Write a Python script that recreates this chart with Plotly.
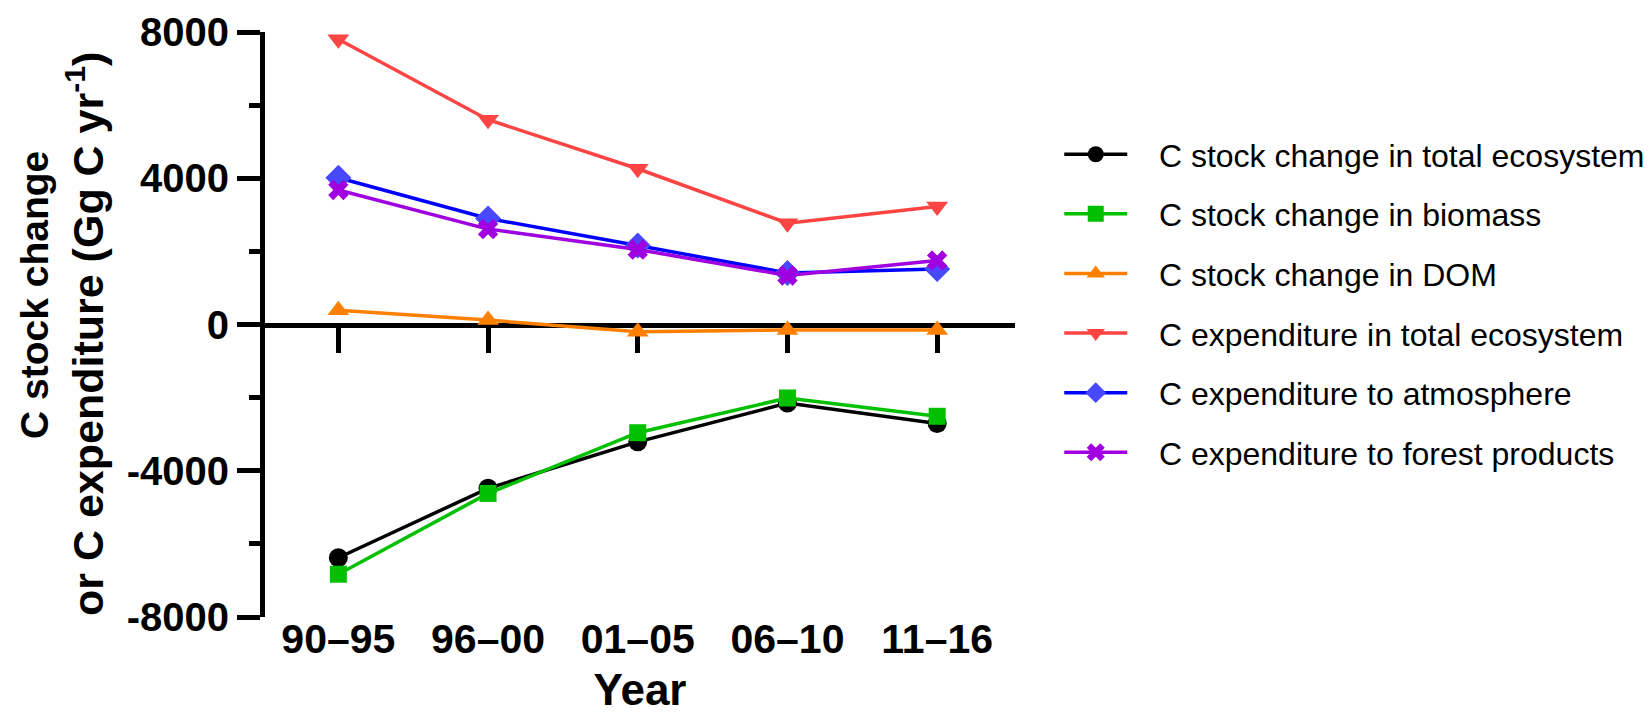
import plotly.graph_objects as go

categories = ["90–95", "96–00", "01–05", "06–10", "11–16"]

total_stock = [-6380, -4480, -3210, -2150, -2710]
biomass_stock = [-6830, -4620, -2960, -2010, -2510]
dom_stock = [390, 120, -200, -150, -150]
total_exp = [7800, 5600, 4260, 2770, 3230]
atmos_exp = [4015, 2900, 2160, 1410, 1520]
products_exp = [3680, 2610, 2050, 1340, 1750]

ytick_vals = [-8000, -4000, 0, 4000, 8000]
ytick_text = ["-8000", "-4000", "0", "4000", "8000"]
yminor_vals = [-6000, -2000, 2000, 6000]

ytitle_line1 = "C stock change"
ytitle_line2 = "or C expenditure (Gg C yr<sup>-1</sup>)"
xtitle = "Year"

series = [
    ("C stock change in total ecosystem", total_stock, "#000000", "#000000", "circle", 19),
    ("C stock change in biomass", biomass_stock, "#00C000", "#00C000", "square", 17),
    ("C stock change in DOM", dom_stock, "#FF8000", "#FF8000", "triangle-up", 19),
    ("C expenditure in total ecosystem", total_exp, "#FF4444", "#FF4444", "triangle-down", 19),
    ("C expenditure to atmosphere", atmos_exp, "#0000FF", "#4848FF", "diamond", 20),
    ("C expenditure to forest products", products_exp, "#A000E0", "#A000E0", "x", 18),
]

SP = "\u00a0" * 3

fig = go.Figure()
for i, (name, vals, lc, mc, sym, sz) in enumerate(series):
    fig.add_trace(go.Scatter(
        x=categories, y=vals, name=SP + name, mode="lines+markers",
        line=dict(color=lc, width=3.5),
        marker=dict(color=mc, symbol=sym, size=sz, line=dict(width=0)),
        legendgroup=f"g{i}",
    ))

# dummy trace for the bottom category labels axis
fig.add_trace(go.Scatter(x=categories, y=[None] * len(categories), xaxis="x2",
                         showlegend=False, hoverinfo="skip", mode="markers"))

font_family = "Liberation Sans, Arial, sans-serif"
xrange = [-0.49, 4.52]

fig.update_layout(
    width=1652, height=720,
    margin=dict(l=257, r=645, t=24, b=111, autoexpand=False),
    plot_bgcolor="white", paper_bgcolor="white",
    font=dict(family=font_family, color="black"),
    showlegend=True,
    legend=dict(
        x=1.059, xanchor="left", y=0.536, yanchor="middle",
        font=dict(family=font_family, size=32, color="black"),
        itemwidth=63, tracegroupgap=15, traceorder="grouped",
        bgcolor="rgba(0,0,0,0)",
    ),
    xaxis=dict(
        type="category", range=xrange,
        anchor="free", position=0.5,
        showline=True, linewidth=5, linecolor="black",
        ticks="outside", ticklen=25, tickwidth=4.5, tickcolor="black",
        showticklabels=False, showgrid=False, zeroline=False,
        layer="below traces",
    ),
    xaxis2=dict(
        type="category", range=xrange,
        overlaying="x", anchor="y", side="bottom",
        showline=False, ticks="", showgrid=False, zeroline=False,
        ticklabelstandoff=-6, ticklabeloverflow="allow",
        tickfont=dict(family=font_family, size=41, color="black", weight="bold"),
        title=dict(text=xtitle, font=dict(family=font_family, size=44, color="black", weight="bold"),
                   standoff=13),
    ),
    yaxis=dict(
        range=[-8000, 8000],
        tickvals=ytick_vals, ticktext=ytick_text,
        showline=True, linewidth=5, linecolor="black",
        ticks="outside", ticklen=23, tickwidth=4.5, tickcolor="black",
        minor=dict(tickvals=yminor_vals, ticks="outside", ticklen=11, tickwidth=4.5, tickcolor="black"),
        showgrid=False, zeroline=False, ticklabeloverflow="allow",
        tickfont=dict(family=font_family, size=40, color="black", weight="bold"),
        layer="below traces",
    ),
    annotations=[
        dict(text=ytitle_line1, xref="paper", yref="paper",
             x=(26 - 257) / 750, y=(609 - 287) / 585, xanchor="center", yanchor="middle",
             textangle=-90, showarrow=False,
             font=dict(family=font_family, size=39, color="black", weight="bold")),
        dict(text=ytitle_line2, xref="paper", yref="paper",
             x=(77 - 257) / 750, y=(609 - 326) / 585, xanchor="center", yanchor="middle",
             textangle=-90, showarrow=False,
             font=dict(family=font_family, size=43, color="black", weight="bold")),
    ],
)

fig.write_html("out.html")
